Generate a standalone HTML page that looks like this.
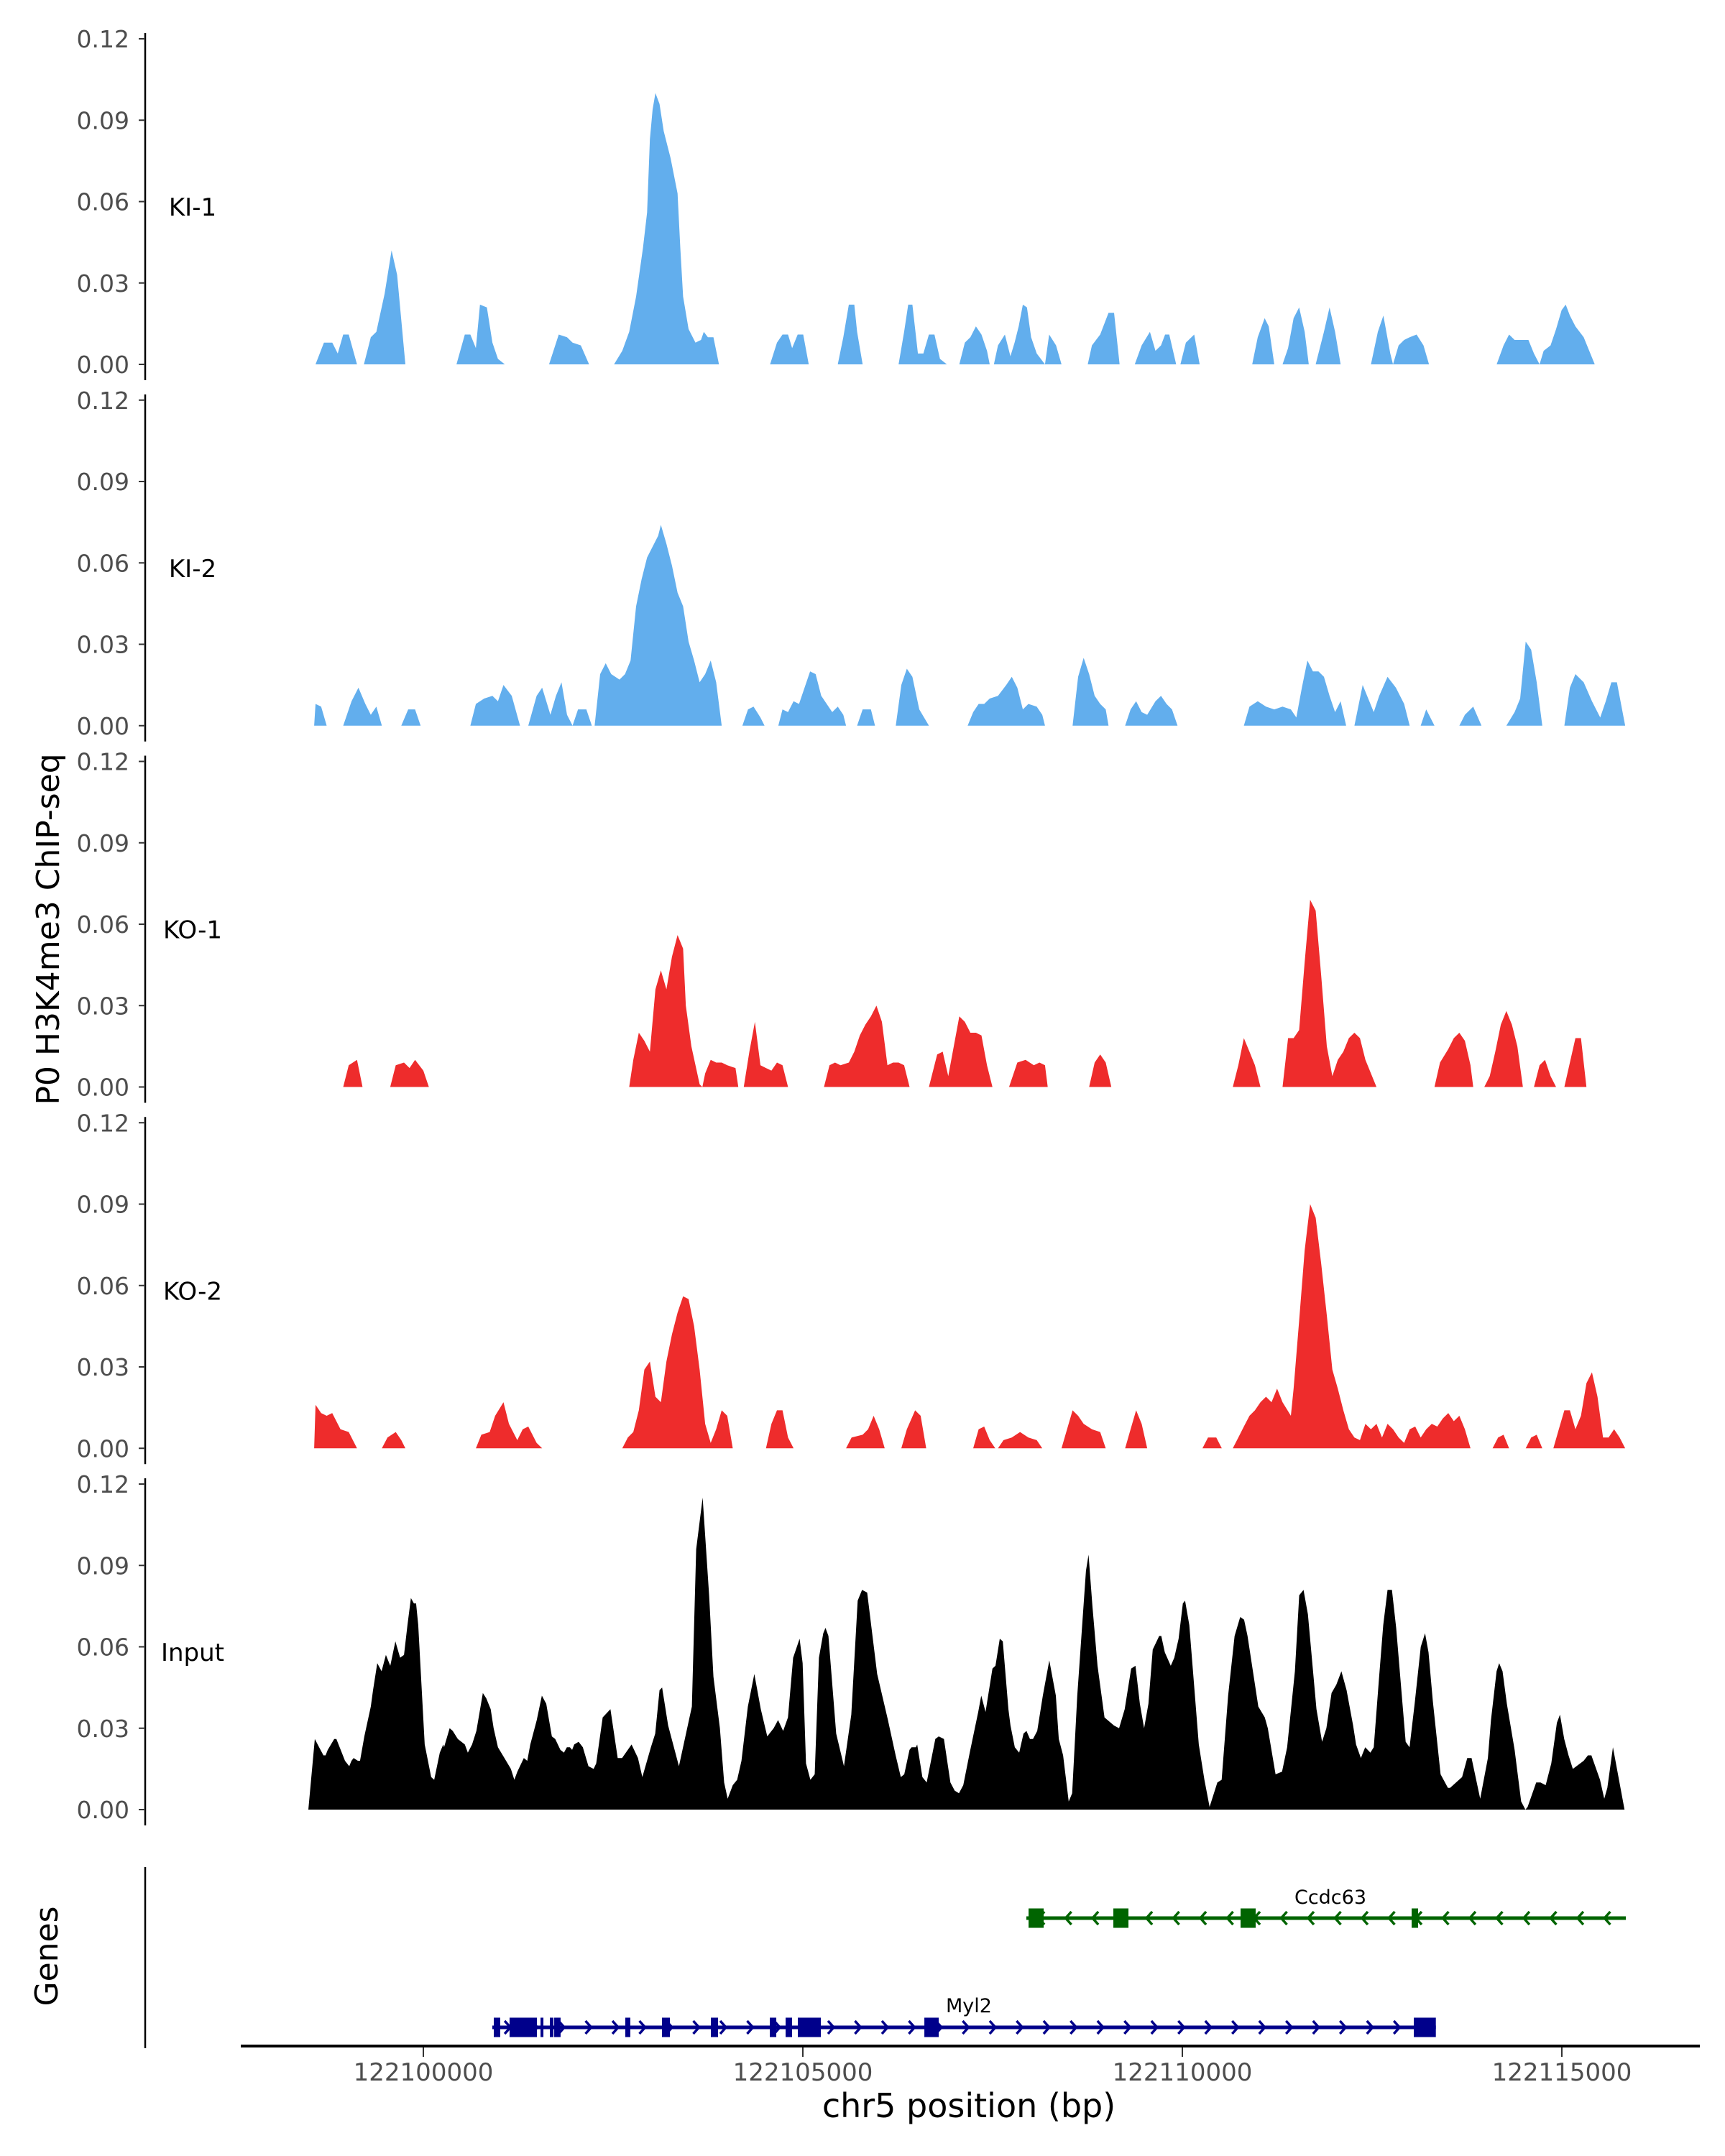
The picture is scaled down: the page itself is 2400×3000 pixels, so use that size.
<!DOCTYPE html>
<html>
<head>
<meta charset="utf-8">
<style>
  html,body{margin:0;padding:0;background:#fff;}
  svg{display:block;}
  text{font-family:"DejaVu Sans","Liberation Sans",sans-serif;}
</style>
</head>
<body>
<svg id="chart" width="2400" height="3000" viewBox="0 0 2400 3000" xmlns="http://www.w3.org/2000/svg">
  <text x="0" y="0" font-size="44" fill="#000" text-anchor="middle" transform="translate(82,1293) rotate(-90)">P0 H3K4me3 ChIP-seq</text>
  <text x="0" y="0" font-size="44" fill="#000" text-anchor="middle" transform="translate(80,2722) rotate(-90)">Genes</text>
  <line x1="202" y1="2598" x2="202" y2="2850" stroke="#000" stroke-width="2.5"/>
  <line x1="335" y1="2847" x2="2365" y2="2847" stroke="#000" stroke-width="4"/>
  <text x="1348" y="2946" font-size="46" fill="#000" text-anchor="middle">chr5 position (bp)</text>
  <g id="tracks"></g>
  <g id="genes"></g>
  <g id="xaxis"></g>
</svg>
<script>
const chromStart = 122100000;
const trackNames = ['KI-1','KI-2','KO-1','KO-2','Input'];
const yTicks = [0, 0.03, 0.06, 0.09, 0.12];
const yTickLabels = ['0.00','0.03','0.06','0.09','0.12'];
const xTicks = [122100000, 122105000, 122110000, 122115000];
const xTickLabels = ['122100000','122105000','122110000','122115000'];

// [position offset from chromStart (bp), signal]
const ki1 = [[-1420,0],[-1310,.008],[-1200,.008],[-1128,.004],[-1056,.011],[-983,.011],[-874,0],[-783,0],[-692,.010],[-619,.012],[-510,.026],[-419,.042],[-346,.033],[-237,0],[437,0],[546,.011],[619,.011],[692,.006],[746,.022],[837,.021],[910,.008],[983,.002],[1074,0],[1656,0],[1784,.011],[1893,.010],[1966,.008],[2075,.007],[2184,0],[2512,0],[2621,.005],[2712,.012],[2803,.025],[2894,.043],[2948,.056],[2985,.083],[3021,.094],[3058,.100],[3112,.096],[3167,.086],[3258,.076],[3349,.063],[3385,.043],[3422,.025],[3494,.013],[3585,.008],[3658,.009],[3695,.012],[3749,.010],[3822,.010],[3895,0],[4568,0],[4659,.008],[4732,.011],[4805,.011],[4859,.006],[4932,.011],[5005,.011],[5078,0],[5460,0],[5533,.010],[5606,.022],[5678,.022],[5715,.012],[5788,0],[6261,0],[6334,.012],[6388,.022],[6443,.022],[6516,.004],[6588,.004],[6661,.011],[6734,.011],[6807,.002],[6898,0],[7062,0],[7134,.008],[7207,.010],[7280,.014],[7353,.011],[7426,.005],[7462,0],[7517,0],[7571,.007],[7662,.011],[7735,.003],[7790,.008],[7844,.014],[7899,.022],[7953,.021],[8008,.010],[8081,.004],[8190,0],[8245,.011],[8336,.007],[8408,0],[8754,0],[8809,.007],[8918,.011],[9027,.019],[9100,.019],[9173,0],[9373,0],[9464,.007],[9573,.012],[9646,.005],[9719,.007],[9773,.011],[9828,.011],[9919,0],[9974,0],[10046,.008],[10156,.011],[10228,0],[10920,0],[10993,.010],[11084,.017],[11138,.014],[11211,0],[11320,0],[11393,.006],[11466,.017],[11539,.021],[11612,.012],[11666,0],[11757,0],[11866,.012],[11939,.021],[12012,.012],[12085,0],[12485,0],[12576,.012],[12649,.018],[12740,.004],[12776,0],[12849,.007],[12922,.009],[12995,.010],[13086,.011],[13177,.007],[13250,0],[14141,0],[14232,.007],[14305,.011],[14378,.009],[14560,.009],[14633,.004],[14706,0],[14760,.005],[14851,.007],[14924,.013],[14997,.020],[15051,.022],[15106,.018],[15179,.014],[15288,.010],[15434,0]];

const ki2 = [[-1438,0],[-1420,.008],[-1347,.007],[-1274,0],[-1056,0],[-946,.009],[-855,.014],[-764,.008],[-692,.004],[-619,.007],[-546,0],[-291,0],[-200,.006],[-109,.006],[-36,0],[619,0],[692,.008],[801,.010],[910,.011],[983,.009],[1056,.015],[1165,.011],[1274,0],[1383,0],[1492,.011],[1565,.014],[1674,.004],[1747,.011],[1820,.016],[1893,.004],[1966,0],[2038,.006],[2148,.006],[2220,0],[2257,0],[2330,.019],[2402,.023],[2475,.019],[2584,.017],[2657,.019],[2730,.024],[2803,.044],[2876,.054],[2948,.062],[3021,.066],[3094,.070],[3130,.074],[3203,.067],[3276,.059],[3349,.049],[3422,.044],[3494,.031],[3567,.024],[3640,.016],[3713,.019],[3786,.024],[3858,.016],[3931,0],[4204,0],[4277,.006],[4350,.007],[4441,.003],[4495,0],[4677,0],[4732,.006],[4805,.005],[4878,.009],[4950,.008],[5023,.014],[5096,.020],[5169,.019],[5242,.011],[5314,.008],[5387,.005],[5460,.007],[5533,.004],[5569,0],[5715,0],[5788,.006],[5897,.006],[5951,0],[6224,0],[6297,.015],[6370,.021],[6443,.018],[6534,.006],[6661,0],[7171,0],[7244,.005],[7316,.008],[7389,.008],[7462,.010],[7571,.011],[7680,.015],[7753,.018],[7826,.014],[7899,.006],[7972,.008],[8081,.007],[8154,.004],[8190,0],[8554,0],[8627,.018],[8700,.025],[8772,.019],[8845,.011],[8918,.008],[8991,.006],[9027,0],[9246,0],[9318,.006],[9391,.009],[9464,.005],[9537,.004],[9646,.009],[9719,.011],[9792,.008],[9864,.006],[9937,0],[10811,0],[10884,.007],[10993,.009],[11102,.007],[11211,.006],[11320,.007],[11430,.006],[11502,.003],[11575,.014],[11648,.024],[11721,.020],[11794,.020],[11866,.018],[11939,.011],[12012,.005],[12085,.009],[12158,0],[12267,0],[12376,.015],[12449,.010],[12522,.005],[12594,.011],[12704,.018],[12813,.014],[12922,.008],[12995,0],[13140,0],[13213,.006],[13322,0],[13650,0],[13723,.004],[13832,.007],[13941,0],[14269,0],[14378,.005],[14451,.010],[14524,.031],[14596,.028],[14669,.016],[14742,0],[15033,0],[15106,.014],[15179,.019],[15288,.016],[15397,.009],[15506,.003],[15579,.009],[15652,.016],[15725,.016],[15834,0]];

const ko1 = [[-1056,0],[-983,.008],[-874,.010],[-801,0],[-437,0],[-364,.008],[-255,.009],[-182,.007],[-109,.010],[0,.006],[73,0],[2712,0],[2766,.010],[2839,.020],[2912,.017],[2985,.013],[3058,.036],[3130,.043],[3203,.036],[3276,.048],[3349,.056],[3422,.051],[3458,.030],[3531,.015],[3640,.001],[3676,0],[3713,.005],[3786,.010],[3858,.009],[3931,.009],[4004,.008],[4113,.007],[4150,0],[4222,0],[4295,.013],[4368,.024],[4441,.008],[4514,.007],[4586,.006],[4659,.009],[4732,.008],[4805,0],[5278,0],[5351,.008],[5424,.009],[5496,.008],[5606,.009],[5678,.013],[5751,.019],[5824,.023],[5897,.026],[5970,.030],[6042,.024],[6115,.008],[6188,.009],[6261,.009],[6334,.008],[6406,0],[6661,0],[6770,.012],[6843,.013],[6916,.004],[6989,.015],[7062,.026],[7134,.024],[7207,.020],[7280,.020],[7353,.019],[7426,.008],[7498,0],[7717,0],[7826,.009],[7935,.010],[8044,.008],[8117,.009],[8190,.008],[8226,0],[8772,0],[8845,.009],[8918,.012],[8991,.009],[9064,0],[10665,0],[10738,.008],[10811,.018],[10884,.013],[10956,.008],[11029,0],[11320,0],[11393,.018],[11466,.018],[11539,.021],[11612,.046],[11684,.069],[11757,.065],[11830,.041],[11903,.015],[11976,.004],[12048,.010],[12121,.013],[12194,.018],[12267,.020],[12340,.018],[12412,.010],[12485,.005],[12558,0],[13322,0],[13395,.009],[13504,.014],[13577,.018],[13650,.020],[13723,.017],[13796,.008],[13832,0],[13978,0],[14050,.004],[14123,.013],[14196,.023],[14269,.028],[14342,.023],[14414,.015],[14487,0],[14633,0],[14706,.008],[14778,.010],[14851,.004],[14924,0],[15033,0],[15106,.009],[15179,.018],[15252,.018],[15324,0]];

const ko2 = [[-1438,0],[-1420,.016],[-1347,.013],[-1274,.012],[-1201,.013],[-1092,.007],[-983,.006],[-910,.002],[-874,0],[-546,0],[-473,.004],[-364,.006],[-291,.003],[-237,0],[692,0],[764,.005],[874,.006],[946,.012],[1056,.017],[1128,.009],[1238,.003],[1310,.007],[1383,.008],[1492,.002],[1565,0],[2621,0],[2694,.004],[2766,.006],[2839,.014],[2912,.029],[2985,.032],[3058,.019],[3130,.017],[3203,.032],[3276,.042],[3349,.050],[3422,.056],[3494,.055],[3567,.045],[3640,.029],[3713,.009],[3786,.002],[3858,.007],[3931,.014],[4004,.012],[4077,0],[4514,0],[4586,.009],[4659,.014],[4732,.014],[4805,.004],[4878,0],[5569,0],[5642,.004],[5788,.005],[5860,.007],[5933,.012],[6006,.007],[6079,0],[6297,0],[6370,.007],[6479,.014],[6552,.012],[6625,0],[7244,0],[7316,.007],[7389,.008],[7462,.003],[7535,0],[7571,0],[7644,.003],[7753,.004],[7862,.006],[7972,.004],[8081,.003],[8154,0],[8408,0],[8481,.007],[8554,.014],[8627,.012],[8700,.009],[8809,.007],[8918,.006],[8991,0],[9246,0],[9318,.007],[9391,.014],[9464,.009],[9537,0],[10265,0],[10338,.004],[10447,.004],[10520,0],[10665,0],[10738,.004],[10811,.008],[10884,.012],[10956,.014],[11029,.017],[11102,.019],[11175,.017],[11248,.022],[11320,.017],[11430,.012],[11466,.022],[11539,.047],[11612,.073],[11684,.090],[11757,.085],[11830,.068],[11903,.049],[11976,.029],[12048,.022],[12121,.014],[12194,.007],[12267,.004],[12340,.003],[12412,.009],[12485,.007],[12558,.009],[12631,.004],[12704,.009],[12776,.007],[12849,.004],[12922,.002],[12995,.007],[13068,.008],[13140,.004],[13213,.007],[13286,.009],[13359,.008],[13432,.011],[13504,.013],[13577,.010],[13650,.012],[13723,.007],[13796,0],[14087,0],[14160,.004],[14232,.005],[14305,0],[14524,0],[14596,.004],[14669,.005],[14742,0],[14888,0],[14960,.007],[15033,.014],[15106,.014],[15179,.007],[15252,.012],[15324,.024],[15397,.028],[15470,.019],[15543,.004],[15616,.004],[15688,.007],[15761,.004],[15834,0]];

const input = [[-1515,0],[-1430,.026],[-1373,.023],[-1316,.020],[-1288,.020],[-1259,.022],[-1174,.026],[-1146,.026],[-1089,.022],[-1032,.018],[-976,.016],[-947,.018],[-919,.019],[-862,.018],[-834,.018],[-777,.027],[-692,.038],[-663,.044],[-607,.054],[-550,.051],[-493,.057],[-436,.053],[-368,.062],[-306,.056],[-255,.057],[-209,.068],[-164,.078],[-124,.076],[-96,.076],[-67,.068],[18,.024],[103,.012],[143,.011],[217,.021],[262,.024],[273,.023],[347,.030],[387,.029],[455,.026],[546,.024],[586,.021],[642,.024],[699,.029],[784,.043],[830,.041],[887,.037],[926,.030],[983,.023],[1068,.019],[1153,.015],[1199,.011],[1239,.014],[1324,.019],[1369,.018],[1409,.024],[1494,.033],[1562,.042],[1619,.039],[1693,.027],[1738,.026],[1806,.022],[1852,.021],[1891,.023],[1931,.023],[1960,.022],[1988,.024],[2045,.025],[2101,.023],[2175,.016],[2243,.015],[2277,.017],[2363,.034],[2465,.037],[2561,.019],[2618,.019],[2743,.024],[2828,.019],[2885,.012],[2998,.023],[3055,.028],[3112,.044],[3146,.045],[3225,.031],[3367,.016],[3538,.038],[3595,.096],[3680,.115],[3765,.079],[3822,.049],[3907,.030],[3963,.010],[4009,.004],[4077,.009],[4134,.011],[4191,.018],[4276,.038],[4361,.050],[4446,.037],[4531,.027],[4616,.030],[4673,.033],[4741,.029],[4804,.034],[4872,.056],[4957,.063],[4997,.054],[5042,.017],[5099,.011],[5156,.013],[5212,.056],[5269,.065],[5298,.067],[5337,.064],[5439,.028],[5542,.016],[5638,.035],[5723,.077],[5780,.081],[5848,.080],[5979,.050],[6121,.033],[6223,.020],[6291,.012],[6336,.013],[6405,.022],[6433,.023],[6490,.023],[6507,.024],[6575,.012],[6632,.010],[6745,.026],[6791,.027],[6859,.026],[6944,.010],[7001,.007],[7057,.006],[7114,.009],[7199,.021],[7311,.036],[7350,.042],[7407,.036],[7441,.042],[7498,.052],[7538,.053],[7595,.063],[7634,.062],[7708,.037],[7736,.031],[7793,.023],[7850,.021],[7907,.028],[7946,.029],[7992,.026],[8032,.026],[8088,.029],[8162,.042],[8247,.055],[8333,.042],[8372,.026],[8429,.020],[8503,.003],[8548,.006],[8616,.042],[8730,.088],[8764,.094],[8815,.075],[8883,.053],[8974,.034],[9099,.031],[9167,.030],[9241,.037],[9326,.052],[9383,.053],[9440,.039],[9496,.030],[9553,.039],[9610,.059],[9695,.064],[9723,.064],[9769,.058],[9848,.053],[9894,.056],[9951,.063],[10007,.076],[10036,.077],[10092,.068],[10217,.024],[10291,.011],[10359,.001],[10461,.010],[10518,.011],[10603,.042],[10688,.064],[10762,.071],[10813,.070],[10859,.064],[11001,.038],[11086,.034],[11126,.030],[11228,.013],[11313,.014],[11381,.023],[11483,.051],[11540,.079],[11597,.081],[11654,.072],[11767,.037],[11841,.025],[11898,.030],[11966,.043],[12028,.046],[12096,.051],[12164,.044],[12250,.031],[12289,.024],[12352,.019],[12409,.023],[12477,.021],[12522,.023],[12590,.048],[12647,.068],[12704,.081],[12761,.081],[12817,.067],[12942,.025],[12993,.023],[13061,.039],[13141,.060],[13198,.065],[13243,.058],[13300,.040],[13402,.013],[13499,.008],[13527,.008],[13686,.012],[13754,.019],[13811,.019],[13924,.004],[14026,.019],[14066,.033],[14140,.051],[14174,.054],[14219,.051],[14276,.039],[14378,.022],[14464,.003],[14520,0],[14549,.001],[14662,.010],[14719,.010],[14787,.009],[14861,.017],[14935,.032],[14975,.035],[15031,.026],[15088,.020],[15145,.015],[15287,.018],[15344,.020],[15389,.020],[15503,.011],[15559,.004],[15599,.008],[15673,.023],[15826,0]];

const trackSeries = [ki1, ki2, ko1, ko2, input];
const trackColors = ['#62AEED','#62AEED','#EE2C2C','#EE2C2C','#000000'];

// genes: offsets from chromStart (bp)
const myl2Span = [909, 13340];
const myl2ExonStarts = [928, 1136, 1544, 1667, 1724, 2661, 3144, 3788, 4565, 4773, 4934, 6601, 13050];
const myl2ExonEnds   = [1013, 1496, 1580, 1714, 1808, 2727, 3248, 3883, 4650, 4858, 5237, 6790, 13340];
const ccdc63Span = [7945, 15843];
const ccdc63ExonStarts = [7974, 9091, 10767, 13021];
const ccdc63ExonEnds   = [8173, 9290, 10966, 13106];

const NS = 'http://www.w3.org/2000/svg';
function xScale(offsetBp){ return 589 + offsetBp * 528 / 5000; }
function xAbs(bp){ return xScale(bp - chromStart); }
function panelZero(i){ return 507 + 502.75 * i; }
function yScale(i, v){ return panelZero(i) - v / 0.12 * 453; }
function mk(tag, attrs, parent){
  const el = document.createElementNS(NS, tag);
  for (const k in attrs) el.setAttribute(k, attrs[k]);
  parent.appendChild(el);
  return el;
}

const tracksG = document.getElementById('tracks');
trackNames.forEach((name, i) => {
  const g = mk('g', {}, tracksG);
  
  
  const z = panelZero(i);
  const axis = mk('line', {x1:202, y1:z+22, x2:202, y2:yScale(i,0.12)-8, stroke:'#000','stroke-width':2.5}, g);
  
  
  yTicks.forEach((t, k) => {
    const y = yScale(i, t);
    const tl = mk('line', {x1:193, y1:y, x2:202, y2:y, stroke:'#333','stroke-width':2}, g);
    
    
    const tx = mk('text', {x:180, y:y+12, 'font-size':33, fill:'#4d4d4d', 'text-anchor':'end'}, g);
    tx.textContent = yTickLabels[k];
    
    
  });
  const lab = mk('text', {x:268, y:yScale(i,0.058)+12, 'font-size':34, fill:'#000', 'text-anchor':'middle'}, g);
  lab.textContent = name;
  
  
  const pts = trackSeries[i];
  let d = 'M' + xScale(pts[0][0]).toFixed(1) + ',' + z;
  pts.forEach(p => { d += 'L' + xScale(p[0]).toFixed(1) + ',' + yScale(i, p[1]).toFixed(1); });
  d += 'L' + xScale(pts[pts.length-1][0]).toFixed(1) + ',' + z + 'Z';
  const area = mk('path', {d:d, fill:trackColors[i], stroke:'none'}, g);
  
  
});

const genesG = document.getElementById('genes');
function drawGene(name, span, starts, ends, y, color, dir, labelX, labelY){
  const g = mk('g', {}, genesG);
  
  
  const ln = mk('line', {x1:xScale(span[0]), y1:y, x2:xScale(span[1]), y2:y, stroke:color, 'stroke-width':5}, g);
  
  
  for (let b = span[0] + 200; b < span[1] - 100; b += 355) {
    const x = xScale(b);
    const d = dir > 0 ? `M${x-4},${y-9}L${x+4},${y}L${x-4},${y+9}` : `M${x+4},${y-9}L${x-4},${y}L${x+4},${y+9}`;
    const ch = mk('path', {d:d, fill:'none', stroke:color, 'stroke-width':3.5}, g);
    
    
  }
  starts.forEach((s, k) => {
    const x1 = xScale(s), x2 = xScale(ends[k]);
    const r = mk('rect', {x:x1, y:y-13.5, width:Math.max(x2-x1,4), height:27, fill:color}, g);
    
    
  });
  const t = mk('text', {x:labelX, y:labelY, 'font-size':27, fill:'#000', 'text-anchor':'middle'}, g);
  t.textContent = name;
  
  
}
drawGene('Ccdc63', ccdc63Span, ccdc63ExonStarts, ccdc63ExonEnds, 2669, '#006400', -1, 1851, 2649);
drawGene('Myl2', myl2Span, myl2ExonStarts, myl2ExonEnds, 2821, '#00008B', 1, 1348, 2800);

const xG = document.getElementById('xaxis');
xTicks.forEach((t, k) => {
  const x = xAbs(t);
  const tl = mk('line', {x1:x, y1:2849, x2:x, y2:2862, stroke:'#333', 'stroke-width':2}, xG);
  
  
  const tx = mk('text', {x:x, y:2895, 'font-size':34, fill:'#4d4d4d', 'text-anchor':'middle'}, xG);
  tx.textContent = xTickLabels[k];
  
  
});
</script>
</body>
</html>
